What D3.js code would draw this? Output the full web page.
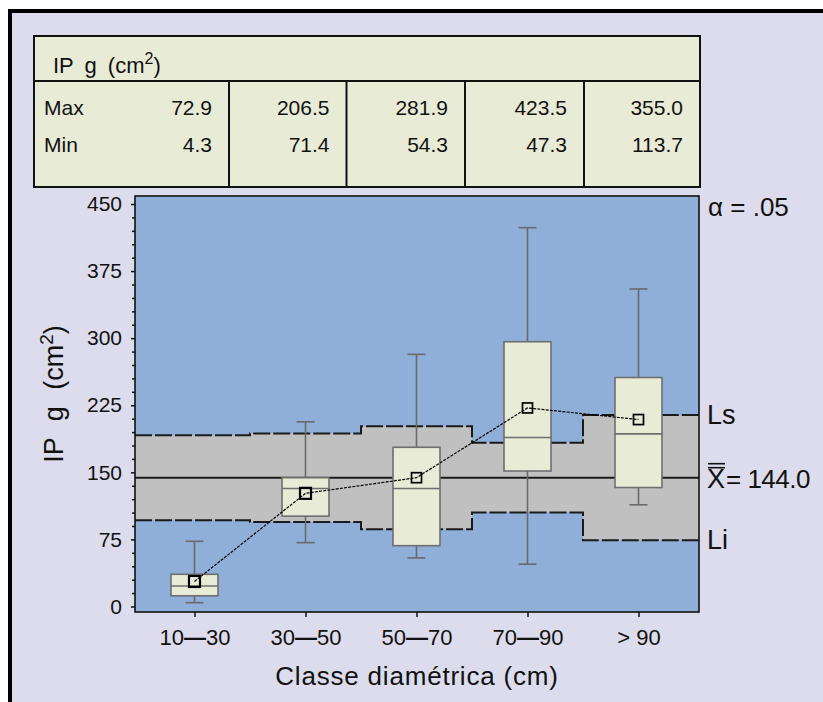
<!DOCTYPE html>
<html><head><meta charset="utf-8">
<script src="https://cdn.jsdelivr.net/npm/d3@7"></script>
<style>
html,body{margin:0;padding:0;background:#fff;}
svg{display:block;}
text{font-family:"Liberation Sans",Arial,sans-serif;fill:#111;}
</style></head>
<body>
<svg id="chart" width="823" height="702"></svg>
<script>
// ---- data ----
const categories = ["10\u201430", "30\u201450", "50\u201470", "70\u201490", "> 90"];
const maxVals = [72.9, 206.5, 281.9, 423.5, 355.0];
const minVals = [4.3, 71.4, 54.3, 47.3, 113.7];
const q3Vals = [36, 144, 178, 296, 256];
const medianVals = [23, 132, 132, 189, 193];
const q1Vals = [12, 101, 68, 151.5, 133];
const meanVals = [28, 126.5, 144, 222, 209];
const grandMean = 144.0;
const upperLimit = [191.5, 193.5, 201.5, 183, 214];
const lowerLimit = [96.5, 94.5, 86.5, 105, 74];
const yTicks = [0, 75, 150, 225, 300, 375, 450];
const yMinorTicks = d3.range(0, 451, 15).filter(v => v % 75 !== 0);
const tableRows = ["Max", "Min"];

// ---- layout ----
const svg = d3.select("#chart");
const plot = {left: 135, right: 699, top: 196, bottom: 612};
const x = d3.scalePoint().domain(categories).range([194.5, 638.5]);
const y = d3.scaleLinear().domain([0, 450]).range([606.5, 204]);
const boxW = 47, capW = 18;
const FONT = "Liberation Sans, Arial, sans-serif";

// frame
svg.append("rect").attr("x", 10).attr("y", 11).attr("width", 900).attr("height", 800)
  .attr("fill", "#dcdcec").attr("stroke", "#000").attr("stroke-width", 4);

// ---- table ----
const tbl = {left: 34, right: 700, top: 36, head: 81, bottom: 187};
const colEdges = [34, 229, 346.5, 465, 584, 700];
svg.append("rect").attr("x", tbl.left).attr("y", tbl.top)
  .attr("width", tbl.right - tbl.left).attr("height", tbl.bottom - tbl.top)
  .attr("fill", "#e8ebd6").attr("stroke", "#111").attr("stroke-width", 2);
svg.append("line").attr("x1", tbl.left).attr("x2", tbl.right).attr("y1", tbl.head).attr("y2", tbl.head)
  .attr("stroke", "#111").attr("stroke-width", 2);
colEdges.slice(1, -1).forEach(cx => {
  svg.append("line").attr("x1", cx).attr("x2", cx).attr("y1", tbl.head).attr("y2", tbl.bottom)
    .attr("stroke", "#111").attr("stroke-width", 2);
});
const head = svg.append("text").attr("x", 53).attr("y", 73).attr("font-size", 22)
  .attr("word-spacing", 5);
head.append("tspan").text("IP g (cm");
head.append("tspan").attr("dy", -9).attr("font-size", 16).text("2");
head.append("tspan").attr("dy", 9).text(")");

const rowY = [115, 152];
tableRows.forEach((r, i) => {
  svg.append("text").attr("x", 44).attr("y", rowY[i]).attr("font-size", 21).text(r);
});
categories.forEach((c, i) => {
  svg.append("text").attr("x", colEdges[i + 1] - 17).attr("y", rowY[0]).attr("font-size", 21)
    .attr("text-anchor", "end").text(maxVals[i].toFixed(1));
  svg.append("text").attr("x", colEdges[i + 1] - 17).attr("y", rowY[1]).attr("font-size", 21)
    .attr("text-anchor", "end").text(minVals[i].toFixed(1));
});

// ---- plot ----
svg.append("rect").attr("x", plot.left).attr("y", plot.top)
  .attr("width", plot.right - plot.left).attr("height", plot.bottom - plot.top)
  .attr("fill", "#8fafd9");

const pts = categories.map(c => x(c));
const bounds = [plot.left];
for (let i = 0; i < pts.length - 1; i++) bounds.push((pts[i] + pts[i + 1]) / 2);
const stepPts = (arr) => {
  const p = arr.map((v, i) => [bounds[i], y(v)]);
  p.push([plot.right, y(arr[arr.length - 1])]);
  return p;
};
const band = bounds.map((b, i) => ({x: b, hi: upperLimit[i], lo: lowerLimit[i]}));
band.push({x: plot.right, hi: upperLimit[4], lo: lowerLimit[4]});
svg.append("path").datum(band)
  .attr("d", d3.area().x(d => d.x).y0(d => y(d.lo)).y1(d => y(d.hi)).curve(d3.curveStepAfter))
  .attr("fill", "#c0c0c0");

const stepLine = d3.line().curve(d3.curveStepAfter);
[upperLimit, lowerLimit].forEach(arr => {
  svg.append("path").attr("d", stepLine(stepPts(arr)))
    .attr("fill", "none").attr("stroke", "#1a1a1a").attr("stroke-width", 2)
    .attr("stroke-dasharray", "17,3");
});
svg.append("line").attr("x1", plot.left).attr("x2", plot.right)
  .attr("y1", y(grandMean)).attr("y2", y(grandMean))
  .attr("stroke", "#1a1a1a").attr("stroke-width", 2);

// boxes
const g = svg.append("g");
categories.forEach((c, i) => {
  const cx = x(c);
  g.append("line").attr("x1", cx).attr("x2", cx).attr("y1", y(maxVals[i])).attr("y2", y(minVals[i]))
    .attr("stroke", "#6a6a6a").attr("stroke-width", 1.6);
  [maxVals[i], minVals[i]].forEach(v => {
    g.append("line").attr("x1", cx - capW / 2).attr("x2", cx + capW / 2).attr("y1", y(v)).attr("y2", y(v))
      .attr("stroke", "#6a6a6a").attr("stroke-width", 1.6);
  });
  g.append("rect").attr("x", cx - boxW / 2).attr("y", y(q3Vals[i]))
    .attr("width", boxW).attr("height", y(q1Vals[i]) - y(q3Vals[i]))
    .attr("fill", "#e8ebd6").attr("stroke", "#6e6e6e").attr("stroke-width", 1.6);
  g.append("line").attr("x1", cx - boxW / 2).attr("x2", cx + boxW / 2)
    .attr("y1", y(medianVals[i])).attr("y2", y(medianVals[i]))
    .attr("stroke", "#6e6e6e").attr("stroke-width", 1.6);
});
svg.append("path").datum(categories.map((c, i) => [x(c), y(meanVals[i])]))
  .attr("d", d3.line()).attr("fill", "none").attr("stroke", "#000")
  .attr("stroke-width", 1.2).attr("stroke-dasharray", "3,1.2");
categories.forEach((c, i) => {
  const s = i < 2 ? 11 : 10;
  svg.append("rect").attr("x", x(c) - s / 2).attr("y", y(meanVals[i]) - s / 2)
    .attr("width", s).attr("height", s).attr("fill", "none")
    .attr("stroke", "#000").attr("stroke-width", i < 2 ? 2.2 : 1.7);
});

svg.append("rect").attr("x", plot.left).attr("y", plot.top)
  .attr("width", plot.right - plot.left).attr("height", plot.bottom - plot.top)
  .attr("fill", "none").attr("stroke", "#111").attr("stroke-width", 1.6);

// axes
const yAxis = d3.axisLeft(y).tickValues(yTicks).tickSize(4).tickPadding(9).tickFormat(d3.format("d"));
const ya = svg.append("g").attr("transform", `translate(${plot.left},0)`).call(yAxis);
ya.select(".domain").remove();
ya.selectAll(".tick line").attr("stroke", "#111").attr("stroke-width", 1.5);
ya.selectAll(".tick text").attr("font-size", 21).attr("font-family", FONT).attr("fill", "#111");
const yMinor = d3.axisLeft(y).tickValues(yMinorTicks).tickSize(3).tickFormat("");
const ym = svg.append("g").attr("transform", `translate(${plot.left},0)`).call(yMinor);
ym.select(".domain").remove();
ym.selectAll(".tick line").attr("stroke", "#111").attr("stroke-width", 1.5);

const xAxis = d3.axisBottom(x).tickSize(5).tickPadding(12);
const xa = svg.append("g").attr("transform", `translate(0,${plot.bottom})`).call(xAxis);
xa.select(".domain").remove();
xa.selectAll(".tick line").attr("stroke", "#111").attr("stroke-width", 1.5);
xa.selectAll(".tick text").attr("font-size", 22).attr("font-family", FONT).attr("fill", "#111")
  .each(function(d) {
    const parts = d.split("\u2014");
    if (parts.length === 2) {
      const t = d3.select(this).text("");
      t.append("tspan").text(parts[0]);
      t.append("tspan").attr("font-weight", "bold").text("\u2014");
      t.append("tspan").text(parts[1]);
    }
  });

// axis titles
svg.append("text").attr("x", 417).attr("y", 685).attr("text-anchor", "middle")
  .attr("font-size", 26).attr("letter-spacing", 0.8).text("Classe diamétrica (cm)");
const yl = svg.append("text").attr("transform", "translate(63,394) rotate(-90)")
  .attr("text-anchor", "middle").attr("font-size", 27).attr("word-spacing", 9);
yl.append("tspan").text("IP g (cm");
yl.append("tspan").attr("dy", -10).attr("font-size", 19).text("2");
yl.append("tspan").attr("dy", 10).text(")");

// right labels
svg.append("text").attr("x", 708).attr("y", 216).attr("font-size", 26).text("\u03b1 = .05");
svg.append("text").attr("x", 707).attr("y", y(upperLimit[4]) + 9).attr("font-size", 27).text("Ls");
svg.append("text").attr("x", 707).attr("y", y(lowerLimit[4]) + 9).attr("font-size", 27).text("Li");
const mY = y(grandMean) + 10;
svg.append("text").attr("x", 707).attr("y", mY).attr("font-size", 27).text("X");
[-24, -20].forEach(dy => {
  svg.append("line").attr("x1", 708).attr("x2", 725).attr("y1", mY + dy).attr("y2", mY + dy)
    .attr("stroke", "#111").attr("stroke-width", 1.6);
});
svg.append("text").attr("x", 726).attr("y", mY).attr("font-size", 26).attr("letter-spacing", -0.5)
  .text("= " + grandMean.toFixed(1));
</script>
</body></html>
